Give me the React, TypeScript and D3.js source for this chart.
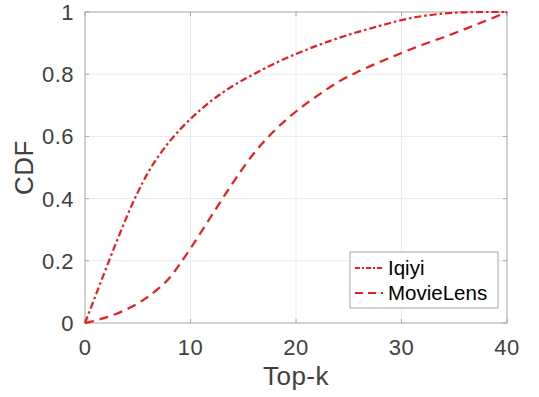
import React, { useEffect, useRef } from 'react';
import * as d3 from 'd3';

// Data
const topK = [0, 1, 2, 3, 4, 5, 6, 7, 8, 9, 10, 12, 14, 16, 18, 20, 22, 24, 26, 28, 30, 32, 34, 36, 38, 40];
const iqiyi = [0, 0.088, 0.176, 0.262, 0.345, 0.42, 0.485, 0.538, 0.583, 0.622, 0.656, 0.715, 0.762, 0.8, 0.835, 0.865, 0.892, 0.916, 0.937, 0.956, 0.974, 0.987, 0.995, 0.999, 1, 1];
const movieLens = [0, 0.008, 0.018, 0.03, 0.045, 0.063, 0.085, 0.112, 0.145, 0.19, 0.24, 0.345, 0.45, 0.545, 0.62, 0.68, 0.73, 0.775, 0.81, 0.84, 0.868, 0.895, 0.919, 0.945, 0.972, 1];
const xTicks = [0, 10, 20, 30, 40];
const yTicks = [0, 0.2, 0.4, 0.6, 0.8, 1];
const seriesNames = ['Iqiyi', 'MovieLens'];

const RED = '#e81e1e';
const DASHES = ['7,3,2.5,3', '9,6'];

export default function App() {
  const svgRef = useRef<SVGSVGElement>(null);

  useEffect(() => {
    const svg = d3.select(svgRef.current);
    svg.selectAll('*').remove();

    const width = 539, height = 397;
    const margin = { top: 12, right: 32, bottom: 74, left: 85 };
    const w = width - margin.left - margin.right;
    const h = height - margin.top - margin.bottom;

    const g = svg.append('g').attr('transform', `translate(${margin.left},${margin.top})`);

    const x = d3.scaleLinear().domain([0, 40]).range([0, w]);
    const y = d3.scaleLinear().domain([0, 1]).range([h, 0]);

    // grid
    g.append('g').selectAll('line').data(xTicks.slice(1, -1)).join('line')
      .attr('x1', d => x(d)).attr('x2', d => x(d)).attr('y1', 0).attr('y2', h)
      .attr('stroke', '#ebebeb').attr('stroke-width', 1);
    g.append('g').selectAll('line').data(yTicks.slice(1, -1)).join('line')
      .attr('y1', d => y(d)).attr('y2', d => y(d)).attr('x1', 0).attr('x2', w)
      .attr('stroke', '#ebebeb').attr('stroke-width', 1);

    // box
    g.append('rect').attr('width', w).attr('height', h)
      .attr('fill', 'none').attr('stroke', '#a6a6a6').attr('stroke-width', 1);

    // inward ticks on all sides
    const tickLen = 4;
    const tg = g.append('g').attr('stroke', '#a6a6a6').attr('stroke-width', 1);
    xTicks.forEach(t => {
      tg.append('line').attr('x1', x(t)).attr('x2', x(t)).attr('y1', h).attr('y2', h - tickLen);
      tg.append('line').attr('x1', x(t)).attr('x2', x(t)).attr('y1', 0).attr('y2', tickLen);
    });
    yTicks.forEach(t => {
      tg.append('line').attr('y1', y(t)).attr('y2', y(t)).attr('x1', 0).attr('x2', tickLen);
      tg.append('line').attr('y1', y(t)).attr('y2', y(t)).attr('x1', w).attr('x2', w - tickLen);
    });

    const font = 'Liberation Sans, Arial, Helvetica, sans-serif';

    // tick labels
    g.append('g').selectAll('text').data(xTicks).join('text')
      .attr('x', d => x(d)).attr('y', h + 32)
      .attr('text-anchor', 'middle')
      .attr('font-family', font).attr('font-size', 22).attr('letter-spacing', 0.5).attr('fill', '#404040')
      .text(d => d3.format('d')(d));
    g.append('g').selectAll('text').data(yTicks).join('text')
      .attr('x', -11).attr('y', d => y(d)).attr('dy', '0.36em')
      .attr('text-anchor', 'end')
      .attr('font-family', font).attr('font-size', 22).attr('letter-spacing', 0.5).attr('fill', '#404040')
      .text(d => String(d));

    // axis labels
    g.append('text')
      .attr('x', w / 2).attr('y', h + 62)
      .attr('text-anchor', 'middle')
      .attr('font-family', font).attr('font-size', 26).attr('letter-spacing', 0.5).attr('fill', '#404040')
      .text('Top-k');
    g.append('text')
      .attr('transform', `translate(${-52},${h / 2}) rotate(-90)`)
      .attr('text-anchor', 'middle')
      .attr('font-family', font).attr('font-size', 26).attr('letter-spacing', 0.5).attr('fill', '#404040')
      .text('CDF');

    // lines
    const line = d3.line<number>()
      .x((_, i) => x(topK[i]))
      .y(d => y(d))
      .curve(d3.curveMonotoneX);

    [iqiyi, movieLens].forEach((s, i) => {
      g.append('path').datum(s)
        .attr('fill', 'none')
        .attr('stroke', RED)
        .attr('stroke-width', 2.2)
        .attr('stroke-dasharray', DASHES[i])
        .attr('d', line);
    });

    // legend
    const lg = g.append('g').attr('transform', `translate(${350 - margin.left},${252 - margin.top})`);
    lg.append('rect').attr('width', 148).attr('height', 56)
      .attr('fill', 'white').attr('stroke', '#a6a6a6').attr('stroke-width', 1);
    seriesNames.forEach((name, i) => {
      const cy = 16 + i * 25;
      lg.append('line').attr('x1', 5).attr('x2', 33).attr('y1', cy).attr('y2', cy)
        .attr('stroke', RED).attr('stroke-width', 2)
        .attr('stroke-dasharray', i === 0 ? '5,2,2,2' : '8,5');
      lg.append('text').attr('x', 38).attr('y', cy).attr('dy', '0.36em')
        .attr('font-family', font).attr('font-size', 20.5).attr('fill', '#000')
        .text(name);
    });
  }, []);

  return (
    <div>
      <svg ref={svgRef} width={539} height={397} style={{ position: 'absolute', left: 0, top: 0 }}></svg>
    </div>
  );
}
